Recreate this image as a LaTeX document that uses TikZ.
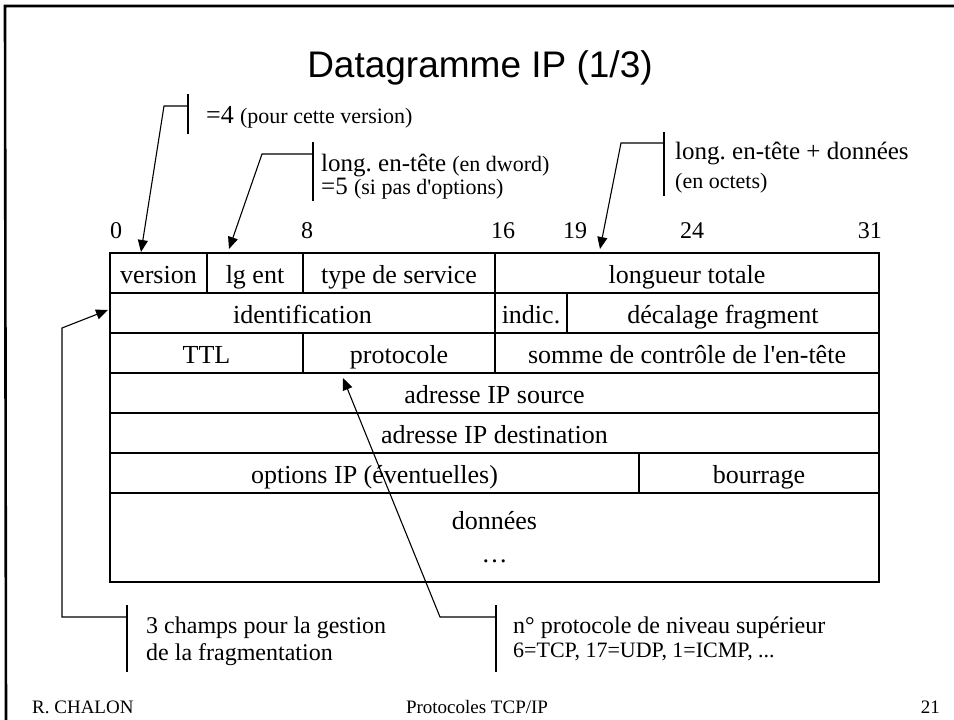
\documentclass[tikz,border=0pt]{standalone}
\usepackage{fontspec}
\setmainfont{Liberation Serif}
\newfontfamily\titlefont{Liberation Sans}
\usetikzlibrary{arrows.meta}
\newcommand\subsz{\fontsize{22}{25}\selectfont}
\newcommand\apos{\textquotesingle}
\frenchspacing
\begin{document}
\begin{tikzpicture}[x=1pt,y=-1pt,
  cellbox/.style={draw, line width=1.2pt, inner sep=0pt, minimum height=40pt,
    font=\fontsize{26}{30}\selectfont, anchor=center},
  cell/.style={cellbox, text height=22pt, text depth=2pt},
  bar/.style={line width=2.4pt},
  lead/.style={line width=1.1pt},
  arr/.style={lead, -{Triangle[length=12pt,width=10pt]}},
  note/.style={anchor=base west, inner sep=0pt, font=\fontsize{25}{27}\selectfont},
  notelow/.style={note, font=\fontsize{24}{26}\selectfont},
  bit/.style={inner sep=0pt, font=\fontsize{24}{28}\selectfont},
  foot/.style={inner sep=0pt, font=\fontsize{19}{22}\selectfont, anchor=base},
  frame/.style={line width=2.6pt}
]
\useasboundingbox (0,0) rectangle (954,720);

% slide frame
\coordinate (fl) at (5,6);
\coordinate (fr) at (954,6);
\coordinate (fb) at (6,720);
\draw[frame] (fr) -- (fl) -- (fb);

% title
\node[inner sep=0pt, anchor=base, font=\titlefont\fontsize{37}{40}\selectfont] (title) at (480,77) {Datagramme IP (1/3)};

% bit numbers
\node[bit, anchor=base west] (n0) at (110,238) {0};
\node[bit, anchor=base] (n8) at (307,238) {8};
\node[bit, anchor=base] (n16) at (503,238) {16};
\node[bit, anchor=base] (n19) at (575,238) {19};
\node[bit, anchor=base] (n24) at (692,238) {24};
\node[bit, anchor=base east] (n31) at (882,238) {31};

% row 1
\node[cell, minimum width=97pt] (version) at (158.5,273) {version};
\node[cell, minimum width=96pt] (lgent) at (255,273) {lg ent};
\node[cell, minimum width=192pt] (tos) at (399,273) {type de service};
\node[cell, minimum width=384pt] (totlen) at (687,273) {longueur totale};
% row 2
\node[cell, minimum width=385pt] (ident) at (302.5,313) {identification};
\node[cell, minimum width=72pt] (indic) at (531,313) {indic.};
\node[cell, minimum width=312pt] (frag) at (723,313) {décalage fragment};
% row 3
\node[cell, minimum width=193pt] (ttl) at (206.5,353) {TTL};
\node[cell, minimum width=192pt] (proto) at (399,353) {protocole};
\node[cell, minimum width=384pt] (csum) at (687,353) {somme de contrôle de l\apos en-tête};
% rows 4, 5
\node[cell, minimum width=769pt] (src) at (494.5,393) {adresse IP source};
\node[cell, minimum width=769pt] (dst) at (494.5,433) {adresse IP destination};
% row 6
\node[cell, minimum width=529pt] (opts) at (374.5,473) {options IP (éventuelles)};
\node[cell, minimum width=240pt] (pad) at (759,473) {bourrage};
% row 7
\node[cellbox, minimum width=769pt, minimum height=89pt, align=center,
  font=\fontsize{26}{33}\selectfont] (data) at (494.5,537.5) {données\\…};

% callout 1 : version
\coordinate (b1t) at (188,94);
\coordinate (b1b) at (188,134);
\coordinate (j1) at (188,106);
\coordinate (k1) at (164,106);
\coordinate (t1) at (141,252);
\draw[bar] (b1t) -- (b1b);
\draw[arr] (j1) -- (k1) -- (t1);
\node[note] (c1) at (206,123) {{\fontsize{26}{28}\selectfont =4} {\subsz(pour cette version)}};

% callout 2 : lg ent
\coordinate (b2t) at (313,142);
\coordinate (b2b) at (313,201);
\coordinate (j2) at (313,154);
\coordinate (k2) at (262,154);
\coordinate (t2) at (229,249);
\draw[bar] (b2t) -- (b2b);
\draw[arr] (j2) -- (k2) -- (t2);
\node[note] (c2a) at (321,171) {long. en-tête {\subsz(en dword)}};
\node[note] (c2b) at (321,194) {=5 {\subsz(si pas d\apos options)}};

% callout 3 : longueur totale
\coordinate (b3t) at (664,132);
\coordinate (b3b) at (664,196);
\coordinate (j3) at (664,143);
\coordinate (k3) at (621,143);
\coordinate (t3) at (600,249);
\draw[bar] (b3t) -- (b3b);
\draw[arr] (j3) -- (k3) -- (t3);
\node[note] (c3a) at (675,159) {long. en-tête + données};
\node[note, font=\subsz] (c3b) at (675,188) {(en octets)};

% callout 4 : fragmentation
\coordinate (b4t) at (127,605);
\coordinate (b4b) at (127,672);
\coordinate (j4) at (127,617);
\coordinate (k4) at (62,617);
\coordinate (u4) at (62,328);
\coordinate (t4) at (108,310);
\draw[bar] (b4t) -- (b4b);
\draw[arr] (j4) -- (k4) -- (u4) -- (t4);
\node[notelow] (c4a) at (146,633) {3 champs pour la gestion};
\node[notelow] (c4b) at (146,660) {de la fragmentation};

% callout 5 : protocole
\coordinate (b5t) at (496,605);
\coordinate (b5b) at (496,672);
\coordinate (j5) at (496,617);
\coordinate (k5) at (440,617);
\coordinate (t5) at (343,378);
\draw[bar] (b5t) -- (b5b);
\draw[arr] (j5) -- (k5) -- (t5);
\node[notelow] (c5a) at (513,633) {n° protocole de niveau supérieur};
\node[note, font=\subsz] (c5b) at (513,657) {6=TCP, 17=UDP, 1=ICMP, ...};

% footer
\node[foot, anchor=base west] (auth) at (32,713) {R. CHALON};
\node[foot] (course) at (477,713) {Protocoles TCP/IP};
\node[foot, anchor=base east] (page) at (940,713) {21};
\end{tikzpicture}
\end{document}
